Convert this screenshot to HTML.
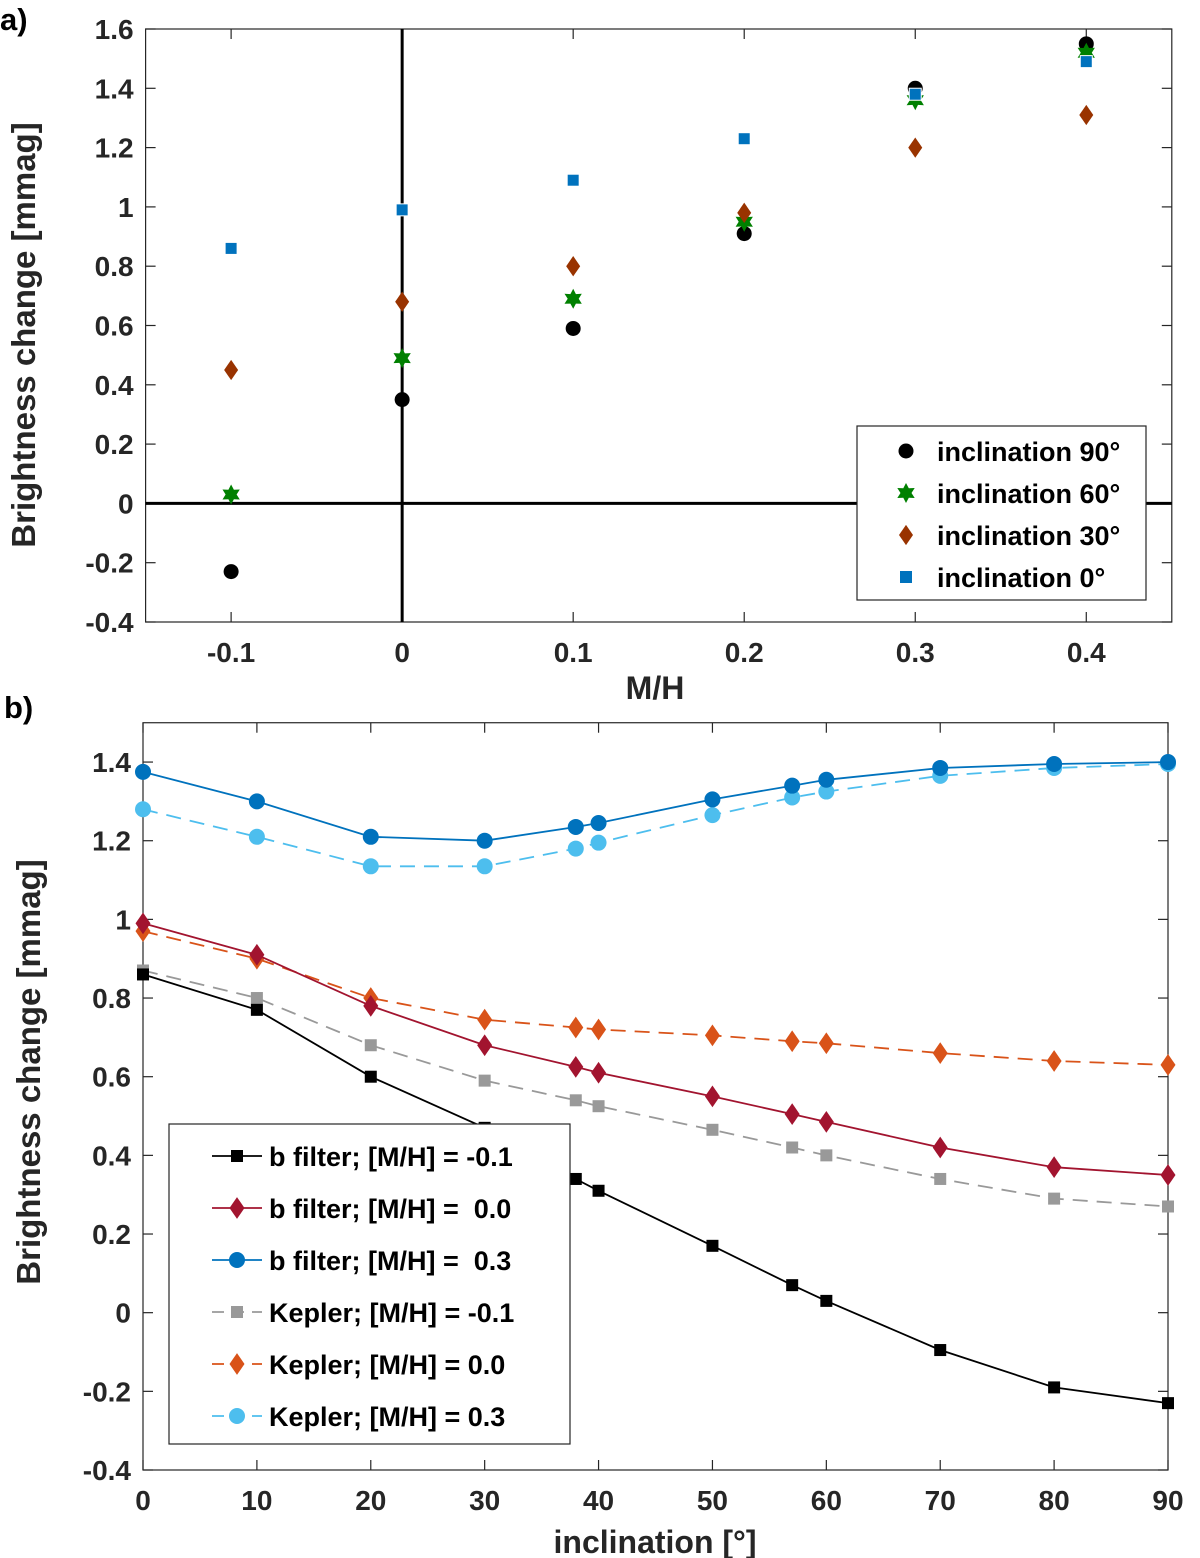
<!DOCTYPE html>
<html><head><meta charset="utf-8">
<style>
body{margin:0;background:#fff;}
svg{display:block;font-family:"Liberation Sans",Arial,sans-serif;font-weight:bold;}
</style></head>
<body>
<svg id="fig" width="1200" height="1558" viewBox="0 0 1200 1558" xmlns="http://www.w3.org/2000/svg">
<rect width="1200" height="1558" fill="#fff"/>
<g id="pa"></g>
<g id="pb"></g>
</svg>
<script>
// Panel a data
const aCats = [-0.1, 0, 0.1, 0.2, 0.3, 0.4];
const aInc90 = [-0.23, 0.35, 0.59, 0.91, 1.40, 1.55];
const aInc60 = [0.03, 0.49, 0.69, 0.95, 1.36, 1.52];
const aInc30 = [0.45, 0.68, 0.80, 0.98, 1.20, 1.31];
const aInc0 = [0.86, 0.99, 1.09, 1.23, 1.38, 1.49];
const aXTicks = [-0.1, 0, 0.1, 0.2, 0.3, 0.4];
const aXTickLabels = ["-0.1", "0", "0.1", "0.2", "0.3", "0.4"];
const aYTicks = [-0.4, -0.2, 0, 0.2, 0.4, 0.6, 0.8, 1, 1.2, 1.4, 1.6];
const aYTickLabels = ["-0.4", "-0.2", "0", "0.2", "0.4", "0.6", "0.8", "1", "1.2", "1.4", "1.6"];
// Panel b data
const bIncl = [0, 10, 20, 30, 38, 40, 50, 57, 60, 70, 80, 90];
const bFilterM01 = [0.86, 0.77, 0.60, 0.47, 0.34, 0.31, 0.17, 0.07, 0.03, -0.095, -0.19, -0.23];
const bFilter00 = [0.99, 0.91, 0.78, 0.68, 0.625, 0.61, 0.55, 0.505, 0.485, 0.42, 0.37, 0.35];
const bFilter03 = [1.375, 1.30, 1.21, 1.20, 1.235, 1.245, 1.305, 1.34, 1.355, 1.385, 1.395, 1.40];
const keplerM01 = [0.87, 0.80, 0.68, 0.59, 0.54, 0.525, 0.465, 0.42, 0.40, 0.34, 0.29, 0.27];
const kepler00 = [0.97, 0.90, 0.80, 0.745, 0.725, 0.72, 0.705, 0.69, 0.685, 0.66, 0.64, 0.63];
const kepler03 = [1.28, 1.21, 1.135, 1.135, 1.18, 1.195, 1.265, 1.31, 1.325, 1.365, 1.385, 1.395];
const bXTicks = [0, 10, 20, 30, 40, 50, 60, 70, 80, 90];
const bXTickLabels = ["0", "10", "20", "30", "40", "50", "60", "70", "80", "90"];
const bYTicks = [-0.4, -0.2, 0, 0.2, 0.4, 0.6, 0.8, 1, 1.2, 1.4];
const bYTickLabels = ["-0.4", "-0.2", "0", "0.2", "0.4", "0.6", "0.8", "1", "1.2", "1.4"];

const NS = "http://www.w3.org/2000/svg";
function mk(parent, tag, attrs, text){
  const e = document.createElementNS(NS, tag);
  for (const k in attrs) e.setAttribute(k, attrs[k]);
  if (text !== undefined) e.textContent = text;
  parent.appendChild(e);
  return e;
}
function marker(g, type, x, y, color, s){
  let e;
  if (type === 'circle') e = mk(g, 'circle', {cx:x, cy:y, r:s, fill:color});
  else if (type === 'square') e = mk(g, 'rect', {x:x-s, y:y-s, width:2*s, height:2*s, fill:color});
  else if (type === 'diamond') e = mk(g, 'polygon', {points:`${x},${y-s*1.45} ${x+s},${y} ${x},${y+s*1.45} ${x-s},${y}`, fill:color});
  else if (type === 'star') {
    const pts=[]; for(let i=0;i<12;i++){const r=i%2?s*0.55:s;const a=Math.PI/6*i-Math.PI/2;pts.push((x+r*Math.cos(a)).toFixed(1)+','+(y+r*Math.sin(a)).toFixed(1));}
    e = mk(g, 'polygon', {points:pts.join(' '), fill:color});
  }
  return e;
}

// ---------- Panel a ----------
(function(){
  const g = document.getElementById('pa');
  const L=145.6, R=1171.8, T=29, B=622;
  const xs = v => L + (v + 0.15) / 0.6 * (R - L);
  const ys = v => B - (v + 0.4) / 2.0 * (B - T);
  mk(g,'rect',{x:L,y:T,width:R-L,height:B-T,fill:'none',stroke:'#262626','stroke-width':1.2});
  aXTicks.forEach((v,i)=>{
    const x=xs(v);
    mk(g,'line',{x1:x,y1:B,x2:x,y2:B-10,stroke:'#262626','stroke-width':1.2});
    mk(g,'line',{x1:x,y1:T,x2:x,y2:T+10,stroke:'#262626','stroke-width':1.2});
    const t=mk(g,'text',{x:x,y:B+40,'font-size':28,'text-anchor':'middle',fill:'#262626'},aXTickLabels[i]);
    
    
  });
  aYTicks.forEach((v,i)=>{
    const y=ys(v);
    mk(g,'line',{x1:L,y1:y,x2:L+10,y2:y,stroke:'#262626','stroke-width':1.2});
    mk(g,'line',{x1:R,y1:y,x2:R-10,y2:y,stroke:'#262626','stroke-width':1.2});
    const t=mk(g,'text',{x:L-12,y:y+10,'font-size':28,'text-anchor':'end',fill:'#262626'},aYTickLabels[i]);
    
    
  });
  mk(g,'line',{x1:L,y1:ys(0),x2:R,y2:ys(0),stroke:'#000','stroke-width':3});
  mk(g,'line',{x1:xs(0),y1:T,x2:xs(0),y2:B,stroke:'#000','stroke-width':3});
  const series=[[aInc90,'circle','#000',7.5],[aInc60,'star','#008000',10],[aInc30,'diamond','#993300',7],[aInc0,'square','#0072bd',6]];
  series.forEach(([vals,type,col,s])=>{
    vals.forEach((v,i)=>{
      const m=marker(g,type,xs(aCats[i]),ys(v),col,s);
      if(type==='square'){m.setAttribute('stroke','#fff');m.setAttribute('stroke-width','1');}
      
      
    });
  });
  const xt=mk(g,'text',{x:655,y:699,'font-size':32,'text-anchor':'middle',fill:'#262626'},'M/H');
  
  
  const yt=mk(g,'text',{x:0,y:0,'font-size':33,'text-anchor':'middle',fill:'#262626',transform:`translate(35,335) rotate(-90)`},'Brightness change [mmag]');
  
  
  const pl=mk(g,'text',{x:0,y:30,'font-size':31,fill:'#000'},'a)');
  
  
  const lg=mk(g,'g',{});
  
  
  mk(lg,'rect',{x:857,y:426,width:289,height:174,fill:'#fff',stroke:'#262626','stroke-width':1.2});
  const labs=['inclination 90°','inclination 60°','inclination 30°','inclination 0°'];
  series.forEach(([v,type,col,s],i)=>{
    const y=451+i*42;
    marker(lg,type,906,y,col,s);
    const t=mk(lg,'text',{x:937,y:y+10,'font-size':27,fill:'#000'},labs[i]);
    
    
  });
})();

// ---------- Panel b ----------
(function(){
  const g = document.getElementById('pb');
  const L=143, R=1168, B=1470;
  const yPer=393.3;
  const T=B-1.9*yPer;
  const xs = v => L + v/90*(R-L);
  const ys = v => B - (v+0.4)*yPer;
  mk(g,'rect',{x:L,y:T,width:R-L,height:B-T,fill:'none',stroke:'#262626','stroke-width':1.2});
  bXTicks.forEach((v,i)=>{
    const x=xs(v);
    mk(g,'line',{x1:x,y1:B,x2:x,y2:B-10,stroke:'#262626','stroke-width':1.2});
    mk(g,'line',{x1:x,y1:T,x2:x,y2:T+10,stroke:'#262626','stroke-width':1.2});
    const t=mk(g,'text',{x:x,y:B+40,'font-size':28,'text-anchor':'middle',fill:'#262626'},bXTickLabels[i]);
    
    
  });
  bYTicks.forEach((v,i)=>{
    const y=ys(v);
    mk(g,'line',{x1:L,y1:y,x2:L+10,y2:y,stroke:'#262626','stroke-width':1.2});
    mk(g,'line',{x1:R,y1:y,x2:R-10,y2:y,stroke:'#262626','stroke-width':1.2});
    const t=mk(g,'text',{x:L-12,y:y+10,'font-size':28,'text-anchor':'end',fill:'#262626'},bYTickLabels[i]);
    
    
  });
  const series=[
    [keplerM01,'square','#999999',true,6,'kepler-m-0.1'],
    [kepler00,'diamond','#d95319',true,7.5,'kepler-0.0'],
    [kepler03,'circle','#4dbeee',true,8,'kepler-0.3'],
    [bFilterM01,'square','#000000',false,6,'b-filter-m-0.1'],
    [bFilter00,'diamond','#a2142f',false,7.5,'b-filter-0.0'],
    [bFilter03,'circle','#0072bd',false,8,'b-filter-0.3']
  ];
  series.forEach(([vals,type,col,dash,s,name])=>{
    const sg=mk(g,'g',{});
    
    
    const pts=vals.map((v,i)=>xs(bIncl[i]).toFixed(1)+','+ys(v).toFixed(1)).join(' ');
    const attrs={points:pts,fill:'none',stroke:col,'stroke-width':1.8};
    if(dash) attrs['stroke-dasharray']='15,9';
    mk(sg,'polyline',attrs);
    vals.forEach((v,i)=>{
      const m=marker(sg,type,xs(bIncl[i]),ys(v),col,s);
      
      
    });
  });
  const xt=mk(g,'text',{x:655,y:1553,'font-size':32,'text-anchor':'middle',fill:'#262626'},'inclination [°]');
  
  
  const yt=mk(g,'text',{x:0,y:0,'font-size':33,'text-anchor':'middle',fill:'#262626',transform:`translate(40,1072) rotate(-90)`},'Brightness change [mmag]');
  
  
  const pl=mk(g,'text',{x:4,y:718,'font-size':31,fill:'#000'},'b)');
  
  
  const lg=mk(g,'g',{});
  
  
  mk(lg,'rect',{x:169,y:1124,width:401,height:320,fill:'#fff',stroke:'#262626','stroke-width':1.2});
  const order=[3,4,5,0,1,2];
  const labs=['b filter; [M/H] = -0.1','b filter; [M/H] =  0.0','b filter; [M/H] =  0.3','Kepler; [M/H] = -0.1','Kepler; [M/H] = 0.0','Kepler; [M/H] = 0.3'];
  order.forEach((si,i)=>{
    const [v,type,col,dash,s]=series[si];
    const y=1156+i*52;
    const la={x1:212,y1:y,x2:262,y2:y,stroke:col,'stroke-width':1.8};
    if(dash) la['stroke-dasharray']='12,8';
    mk(lg,'line',la);
    marker(lg,type,237,y,col,s);
    const t=mk(lg,'text',{x:269,y:y+10,'font-size':27,fill:'#000'},labs[i]);
    t.setAttribute('style','white-space:pre');
    
    
  });
})();
</script>
</body></html>
